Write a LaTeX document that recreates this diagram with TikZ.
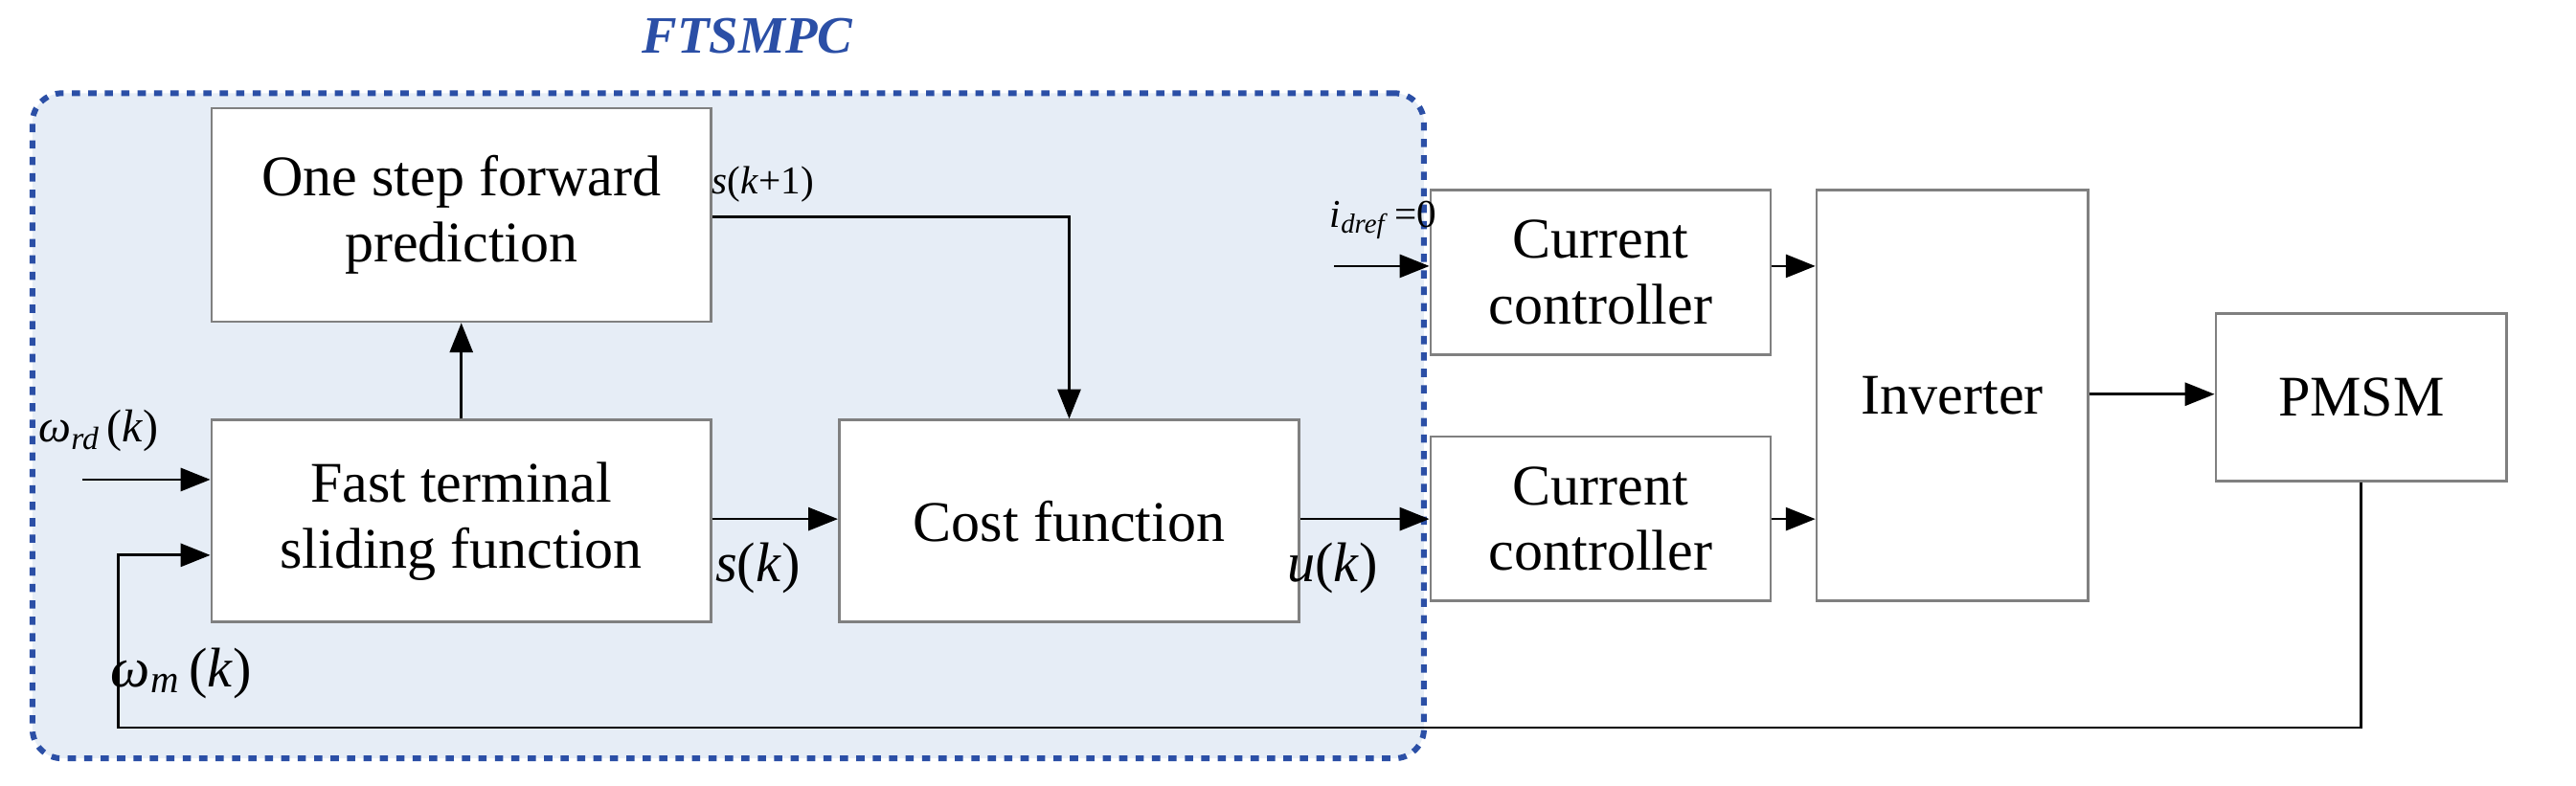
\documentclass[tikz,border=0pt]{standalone}
\usepackage{fontspec}
\setmainfont{Liberation Serif}
\usetikzlibrary{arrows.meta}
\definecolor{fb}{HTML}{E6EDF6}
\definecolor{db}{HTML}{2B4FA6}
\begin{document}
\begin{tikzpicture}[x=1pt,y=-1pt,
 box/.style={draw=black!50,line width=1.6pt,fill=white,align=center,font=\fontsize{35}{40}\selectfont},
 arr/.style={line width=1.6pt,-{Triangle[length=18pt,width=14pt]}},
 lab/.style={font=\fontsize{34}{38}\selectfont},
 slab/.style={font=\fontsize{24}{28}\selectfont}]
\useasboundingbox (0,0) rectangle (1568,478.5);
\node[draw=db,line width=3.5pt,dash pattern=on 5pt off 5pt,fill=fb,rounded corners=18pt,minimum width=847pt,minimum height=405pt,anchor=north west] (ft) at (18,55) {};
\node[font=\fontsize{32}{36}\selectfont\bfseries\itshape,text=db] (ftl) at (455,22) {FTSMPC};
\node[box,minimum width=304pt,minimum height=130pt,anchor=north west] (os) at (128,65) {One step forward\\prediction};
\node[box,minimum width=304pt,minimum height=123pt,anchor=north west] (fs) at (128,255) {Fast terminal\\sliding function};
\node[box,minimum width=280pt,minimum height=123pt,anchor=north west] (cf) at (510,255) {Cost function};
\node[box,minimum width=207pt,minimum height=100pt,anchor=north west] (c1) at (870,115) {Current\\controller};
\node[box,minimum width=207pt,minimum height=100pt,anchor=north west] (c2) at (870,265) {Current\\controller};
\node[box,minimum width=165pt,minimum height=250pt,anchor=north west] (inv) at (1105,115) {Inverter};
\node[box,minimum width=177pt,minimum height=102pt,anchor=north west] (pm) at (1348,190) {PMSM};
\coordinate (w1) at (50,292);
\coordinate (id) at (812,162);
\draw[arr] (w1) -- (fs.west|-w1);
\draw[arr] (pm.south) |- (72,443) |- (fs.west|-0,338);
\draw[arr] (fs.north) -- (os.south);
\draw[arr] (os.east|-0,132) -| (cf.north);
\draw[arr] (fs.east|-0,316) -- (cf.west|-0,316);
\draw[arr] (cf.east|-0,316) -- (c2.west|-0,316);
\draw[arr] (id) -- (c1.west|-id);
\draw[arr] (c1.east|-0,162) -- (inv.west|-0,162);
\draw[arr] (c2.east|-0,316) -- (inv.west|-0,316);
\draw[arr] (inv.east|-0,240) -- (pm.west|-0,240);
\node[lab,anchor=west,font=\fontsize{28}{32}\selectfont] (l1) at (20,262) {\textit{ω}\textsubscript{\textit{rd}}\,(\textit{k})};
\node[lab,anchor=west] (l2) at (64,410) {\textit{ω}\textsubscript{\textit{m}}\,(\textit{k})};
\node[slab,anchor=west] (l3) at (430,112) {\textit{s}(\textit{k}+1)};
\node[lab,anchor=west] (l4) at (432,346) {\textit{s}(\textit{k})};
\node[lab,anchor=west] (l5) at (780,346) {\textit{u}(\textit{k})};
\node[slab,anchor=west] (l6) at (806,134) {\textit{i}\textsubscript{\textit{dref}}\,=0};
\end{tikzpicture}
\end{document}
